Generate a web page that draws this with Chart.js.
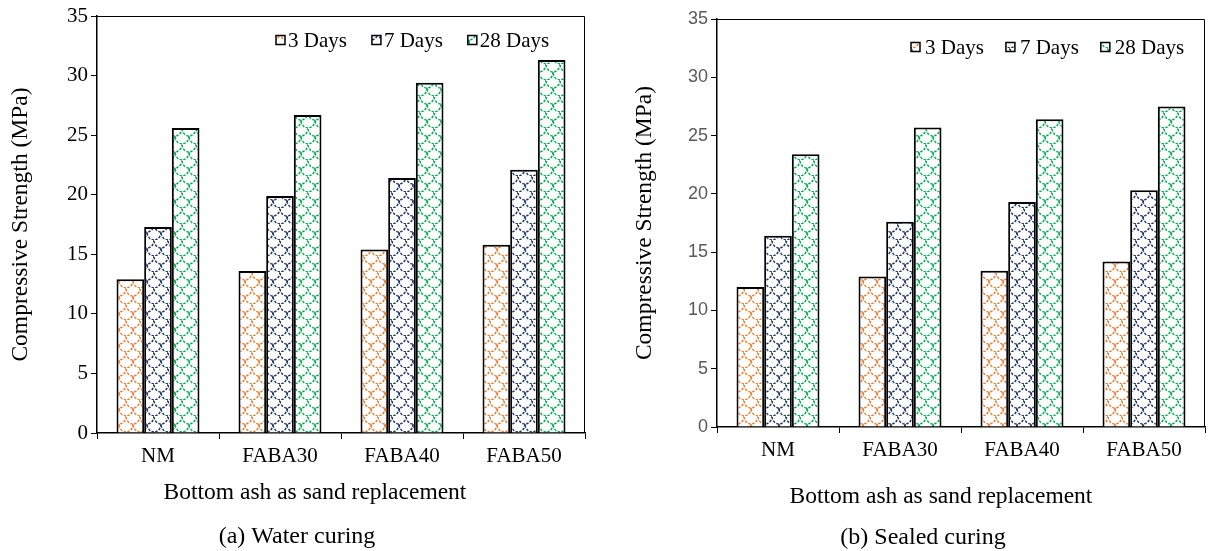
<!DOCTYPE html>
<html>
<head>
<meta charset="utf-8">
<script src="https://cdn.jsdelivr.net/npm/chart.js@4"></script>
<style>
  body { margin: 0; background: #fff; }
  .wrap { position: absolute; top: 0; width: 604px; height: 551px; }
  #w1 { left: 0; }
  #w2 { left: 604px; }
</style>
</head>
<body>
<div class="wrap" id="w1"><canvas id="c1"></canvas></div>
<div class="wrap" id="w2"><canvas id="c2"></canvas></div>
<script>
const categories = ['NM', 'FABA30', 'FABA40', 'FABA50'];
const seriesNames = ['3 Days', '7 Days', '28 Days'];
const seriesColors = ['#ED7D31', '#1F3864', '#00B050'];

// (a) Water curing
const water3 = [12.9, 13.6, 15.4, 15.8];
const water7 = [17.3, 19.9, 21.4, 22.1];
const water28 = [25.6, 26.7, 29.4, 31.3];

// (b) Sealed curing
const sealed3 = [12.0, 12.9, 13.4, 14.2];
const sealed7 = [16.4, 17.6, 19.3, 20.3];
const sealed28 = [23.4, 25.7, 26.4, 27.5];

const yMin = 0, yMax = 35, yStep = 5;

const SERIF = '"Liberation Serif", "Times New Roman", serif';
const SANS = '"Liberation Sans", Arial, sans-serif';

// scale pattern, like the Excel fill
function makePattern(color) {
  const c = document.createElement('canvas');
  c.width = 14; c.height = 16;
  const g = c.getContext('2d');
  g.fillStyle = '#fff';
  g.fillRect(0, 0, 14, 16);
  g.strokeStyle = color;
  g.lineWidth = 1.5;
  g.setLineDash([2.5, 1.5]);
  g.beginPath(); g.ellipse(7, 0, 7, 8, 0, 0, Math.PI); g.stroke();
  g.beginPath(); g.ellipse(0, 8, 7, 8, 0, 0, Math.PI / 2); g.stroke();
  g.beginPath(); g.ellipse(14, 8, 7, 8, 0, Math.PI / 2, Math.PI); g.stroke();
  return g.createPattern(c, 'repeat');
}

const deco = {
  id: 'deco',
  afterDraw(chart, args, opts) {
    const ctx = chart.ctx;
    const a = chart.chartArea;
    ctx.save();
    // top and right frame
    ctx.strokeStyle = '#000';
    ctx.lineWidth = 1;
    ctx.beginPath();
    ctx.moveTo(a.left, a.top + 0.5);
    ctx.lineTo(a.right - 0.5, a.top + 0.5);
    ctx.lineTo(a.right - 0.5, a.bottom);
    ctx.stroke();

    // legend
    ctx.font = '21px ' + SERIF;
    ctx.textBaseline = 'middle';
    let x = opts.legendX;
    chart.data.datasets.forEach(ds => {
      ctx.fillStyle = ds.backgroundColor;
      ctx.fillRect(x, opts.legendY - 4.5, 9, 9);
      ctx.strokeStyle = '#000';
      ctx.lineWidth = 1.5;
      ctx.strokeRect(x, opts.legendY - 4.5, 9, 9);
      ctx.fillStyle = '#000';
      ctx.fillText(ds.label, x + opts.textGap, opts.legendY + 1);
      x += opts.textGap + ctx.measureText(ds.label).width + opts.itemGap;
    });

    // axis title and caption
    ctx.textAlign = 'center';
    ctx.font = '23.5px ' + SERIF;
    ctx.fillText(opts.xTitle, opts.xTitleX, opts.xTitleY);
    ctx.font = '24px ' + SERIF;
    ctx.fillText(opts.caption, opts.captionX, opts.captionY);
    ctx.restore();
  }
};

function makeChart(id, values, cfg) {
  const datasets = values.map((v, i) => ({
    label: seriesNames[i],
    data: v,
    backgroundColor: makePattern(seriesColors[i]),
    borderColor: '#000',
    borderWidth: 2,
    categoryPercentage: 0.68,
    barPercentage: 1.0
  }));

  return new Chart(document.getElementById(id), {
    type: 'bar',
    data: { labels: categories, datasets: datasets },
    plugins: [deco],
    options: {
      responsive: true,
      maintainAspectRatio: false,
      animation: false,
      events: [],
      layout: { padding: { top: cfg.top, right: cfg.right, left: 0, bottom: 0 } },
      plugins: {
        legend: { display: false },
        tooltip: { enabled: false },
        deco: cfg.deco
      },
      scales: {
        x: {
          afterFit(scale) { scale.height = cfg.xHeight; },
          grid: { offset: true, drawOnChartArea: false, drawTicks: true, tickLength: 6, color: '#000', lineWidth: 1 },
          border: { display: true, color: '#000', width: 1.5 },
          ticks: { color: '#000', font: { family: SERIF, size: 21 }, padding: 5, maxRotation: 0 }
        },
        y: {
          min: yMin,
          max: yMax,
          afterFit(scale) { scale.width = cfg.yWidth; },
          grid: { drawOnChartArea: false, drawTicks: true, tickLength: 6, color: '#000', lineWidth: 1 },
          border: { display: true, color: '#000', width: 1.5 },
          ticks: { stepSize: yStep, color: cfg.tickColor, font: { family: cfg.tickFont, size: cfg.tickSize }, padding: 3 },
          title: {
            display: true,
            text: 'Compressive Strength (MPa)',
            color: '#000',
            font: { family: SERIF, size: 23.5 },
            padding: { top: cfg.yTitlePad, bottom: 0 }
          }
        }
      }
    }
  });
}

makeChart('c1', [water3, water7, water28], {
  top: 16, right: 19, xHeight: 118, yWidth: 97, yTitlePad: 7,
  tickColor: '#000', tickFont: SERIF, tickSize: 21,
  deco: {
    legendX: 276, legendY: 40, textGap: 12, itemGap: 25,
    xTitle: 'Bottom ash as sand replacement', xTitleX: 315, xTitleY: 493,
    caption: '(a) Water curing', captionX: 297, captionY: 537
  }
});

makeChart('c2', [sealed3, sealed7, sealed28], {
  top: 19, right: 3, xHeight: 124, yWidth: 113, yTitlePad: 27,
  tickColor: '#595959', tickFont: SANS, tickSize: 18,
  deco: {
    legendX: 307, legendY: 47, textGap: 14, itemGap: 22,
    xTitle: 'Bottom ash as sand replacement', xTitleX: 337, xTitleY: 497,
    caption: '(b) Sealed curing', captionX: 319, captionY: 538
  }
});
</script>
</body>
</html>
